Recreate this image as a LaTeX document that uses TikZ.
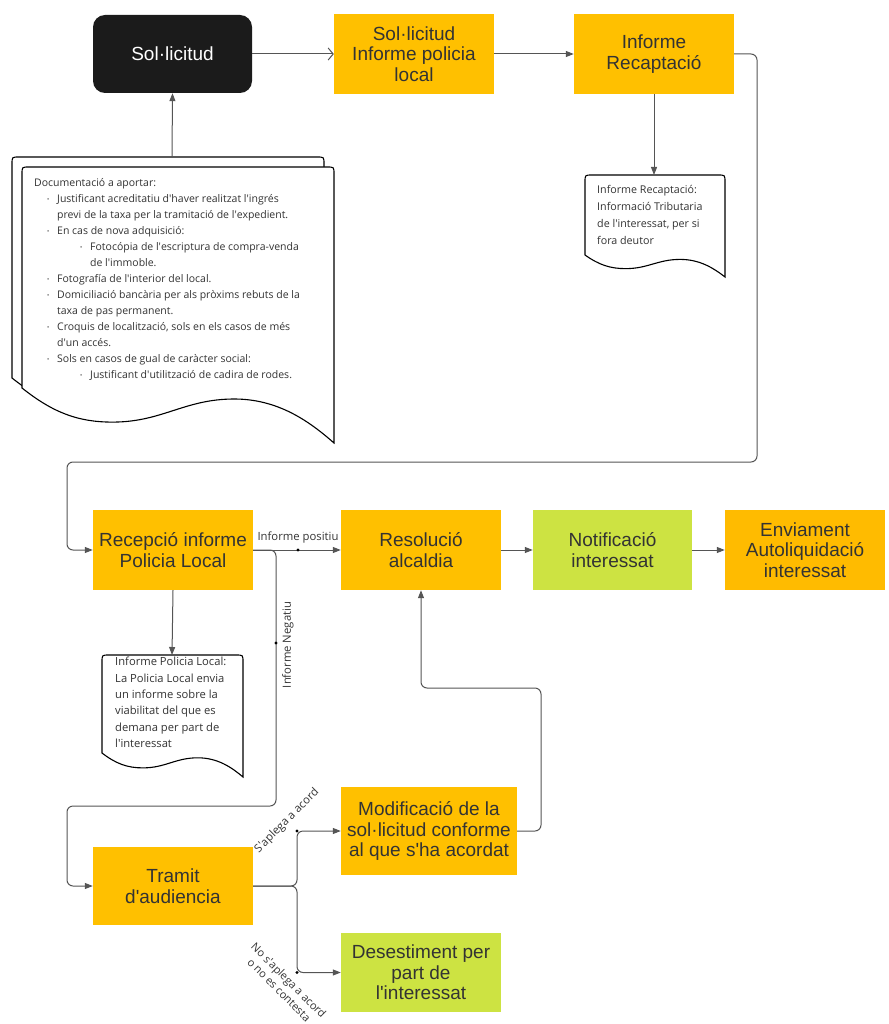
\documentclass[tikz,border=0pt]{standalone}
\usepackage{fontspec}
\setmainfont{Liberation Sans}
\newfontfamily\docfont{Open Sans}
\usetikzlibrary{arrows.meta}
\definecolor{boxyellow}{HTML}{FFC000}
\definecolor{boxorange}{HTML}{FFBB00}
\definecolor{boxgreen}{HTML}{CDE342}
\definecolor{txt}{HTML}{333333}
\definecolor{lncol}{HTML}{555555}
\definecolor{solblack}{HTML}{1B1B1B}
\newcommand\ap{\textquotesingle}
% document shape: x0 y0 x1 yL D
\newcommand\docpath[5]{(#1,#4) .. controls ({#1+0.1*(#3-#1)},{#4+0.45*#5}) and ({#1+0.18*(#3-#1)},{#4+0.62*#5}) .. ({#1+0.29*(#3-#1)},{#4+0.62*#5})
 .. controls ({#1+0.45*(#3-#1)},{#4+0.62*#5}) and ({#1+0.52*(#3-#1)},{#4+0.2*#5}) .. ({#1+0.68*(#3-#1)},{#4+0.2*#5})
 .. controls ({#1+0.82*(#3-#1)},{#4+0.2*#5}) and ({#1+0.92*(#3-#1)},{#4+0.6*#5}) .. (#3,{#4+#5})
 -- (#3,{#2+7}) .. controls (#3,#2) .. ({#3-7},#2) -- ({#1+7},#2) .. controls (#1,#2) .. (#1,{#2+7}) -- cycle}
\newcommand\dbul{\makebox[10pt][l]{\raisebox{0.3pt}{\scalebox{0.55}{•}}}}
\begin{document}
\begin{tikzpicture}[x=1pt,y=-1pt,
  box/.style={fill=boxyellow, minimum width=160, minimum height=80, inner sep=0, align=center, text=txt,
    font=\fontsize{19}{20.5}\selectfont},
  gbox/.style={box, fill=boxgreen},
  docshape/.style={draw=black, fill=white, line width=1.1},
  doctext/.style={anchor=north west, inner sep=0, align=left, text=txt, font=\docfont\fontsize{10.5}{16}\selectfont},
  lbl/.style={inner sep=1, text=txt, font=\docfont\fontsize{11.3}{13}\selectfont},
  conn/.style={draw=lncol, line width=1, rounded corners=6, -{Triangle[length=8pt,width=6pt]}},
  jdot/.style={fill=black}]
\useasboundingbox (0,0) rectangle (888,1024);

% top row
\node[box, fill=solblack, text=white, rounded corners=12, minimum width=159, minimum height=78] (sol) at (172.5,54) {Sol·licitud};
\node[box] (b2) at (414,54) {Sol·licitud\\Informe policia\\local};
\node[box] (b3) at (654,54) {Informe\\Recaptació};

% big stacked document
\draw[docshape] \docpath{12}{157}{324}{378}{55};
\draw[docshape] \docpath{22}{167}{334}{388}{55};
\coordinate (bigdoc) at (172,157);
\node[doctext] (bigtext) at (34,178) {Documentació a aportar:\\
\hspace*{13pt}\dbul Justificant acreditatiu d\ap haver realitzat l\ap ingrés\\
\hspace*{23pt}previ de la taxa per la tramitació de l\ap expedient.\\
\hspace*{13pt}\dbul En cas de nova adquisició:\\
\hspace*{46pt}\dbul Fotocópia de l\ap escriptura de compra-venda\\
\hspace*{56pt}de l\ap immoble.\\
\hspace*{13pt}\dbul Fotografía de l\ap interior del local.\\
\hspace*{13pt}\dbul Domiciliació bancària per als pròxims rebuts de la\\
\hspace*{23pt}taxa de pas permanent.\\
\hspace*{13pt}\dbul Croquis de localització, sols en els casos de més\\
\hspace*{23pt}d\ap un accés.\\
\hspace*{13pt}\dbul Sols en casos de gual de caràcter social:\\
\hspace*{46pt}\dbul Justificant d\ap utilització de cadira de rodes.};

% recaptacio document
\draw[docshape] \docpath{585}{175}{725}{255}{22};
\coordinate (recdoc) at (654,175);
\node[doctext, font=\docfont\fontsize{10.7}{17}\selectfont] (rectext) at (597,185) {Informe Recaptació:\\Informació Tributaria\\de l\ap interessat, per si\\fora deutor};

% middle row
\node[box] (rec) at (173,550) {Recepció informe\\Policia Local};
\node[box] (res) at (421,550) {Resolució\\alcaldia};
\node[gbox, minimum width=159] (not) at (612.5,550) {Notificació\\interessat};
\node[box, fill=boxorange] (env) at (805,550) {Enviament\\Autoliquidació\\interessat};

% policia document
\draw[docshape] \docpath{102}{655}{243}{753}{24};
\coordinate (poldoc) at (172,655);
\node[doctext, font=\docfont\fontsize{11.2}{16.4}\selectfont] (poltext) at (115,657) {Informe Policia Local:\\La Policia Local envia\\un informe sobre la\\viabilitat del que es\\demana per part de\\l\ap interessat};

% bottom
\node[box, minimum width=176, minimum height=88] (mod) at (429,831) {Modificació de la\\sol·licitud conforme\\al que s\ap ha acordat};
\node[box, minimum height=78] (tram) at (173,886) {Tramit\\d\ap audiencia};
\node[gbox, minimum height=79] (des) at (421,972.5) {Desestiment per\\part de\\l\ap interessat};

% connectors
\draw[conn, -{Straight Barb[length=5pt,width=12pt]}] (sol.east) -- (b2.west);
\draw[conn] (b2.east) -- (b3.west);
\draw[conn] (b3.east) -| (757,462) -| (67,550) -- (rec.west);
\draw[conn] (b3.south) -- (recdoc);
\draw[conn] (bigdoc) -- (sol.south);
\draw[conn] (rec.south) -- (poldoc);
\draw[conn] (rec.east) -- (res.west);
\draw[conn] (rec.east) -| (276,806) -| (67,886) -- (tram.west);
\draw[conn] (res.east) -- (not.west);
\draw[conn] (not.east) -- (env.west);
\draw[conn] (tram.east) -| (297,831) -- (mod.west);
\draw[conn] (tram.east) -| (297,972.5) -- (des.west);
\draw[conn] (mod.east) -| (541,688) -| (res.south);

% junction dots
\fill[jdot] (298,550) circle (1.6);
\fill[jdot] (276,643) circle (1.6);
\fill[jdot] (297,831) circle (1.6);
\fill[jdot] (297,972.5) circle (1.6);

% labels
\node[lbl] (lpos) at (298,538) {Informe positiu};
\node[lbl, rotate=90] (lneg) at (288,645) {Informe Negatiu};
\node[lbl, rotate=45] (lacord) at (287,821) {S\ap aplega a acord};
\node[lbl, rotate=-45, align=center, font=\docfont\fontsize{11}{13.5}\selectfont] (lnoacord) at (284,985) {No s\ap aplega a acord\\o no es contesta};
\end{tikzpicture}
\end{document}
